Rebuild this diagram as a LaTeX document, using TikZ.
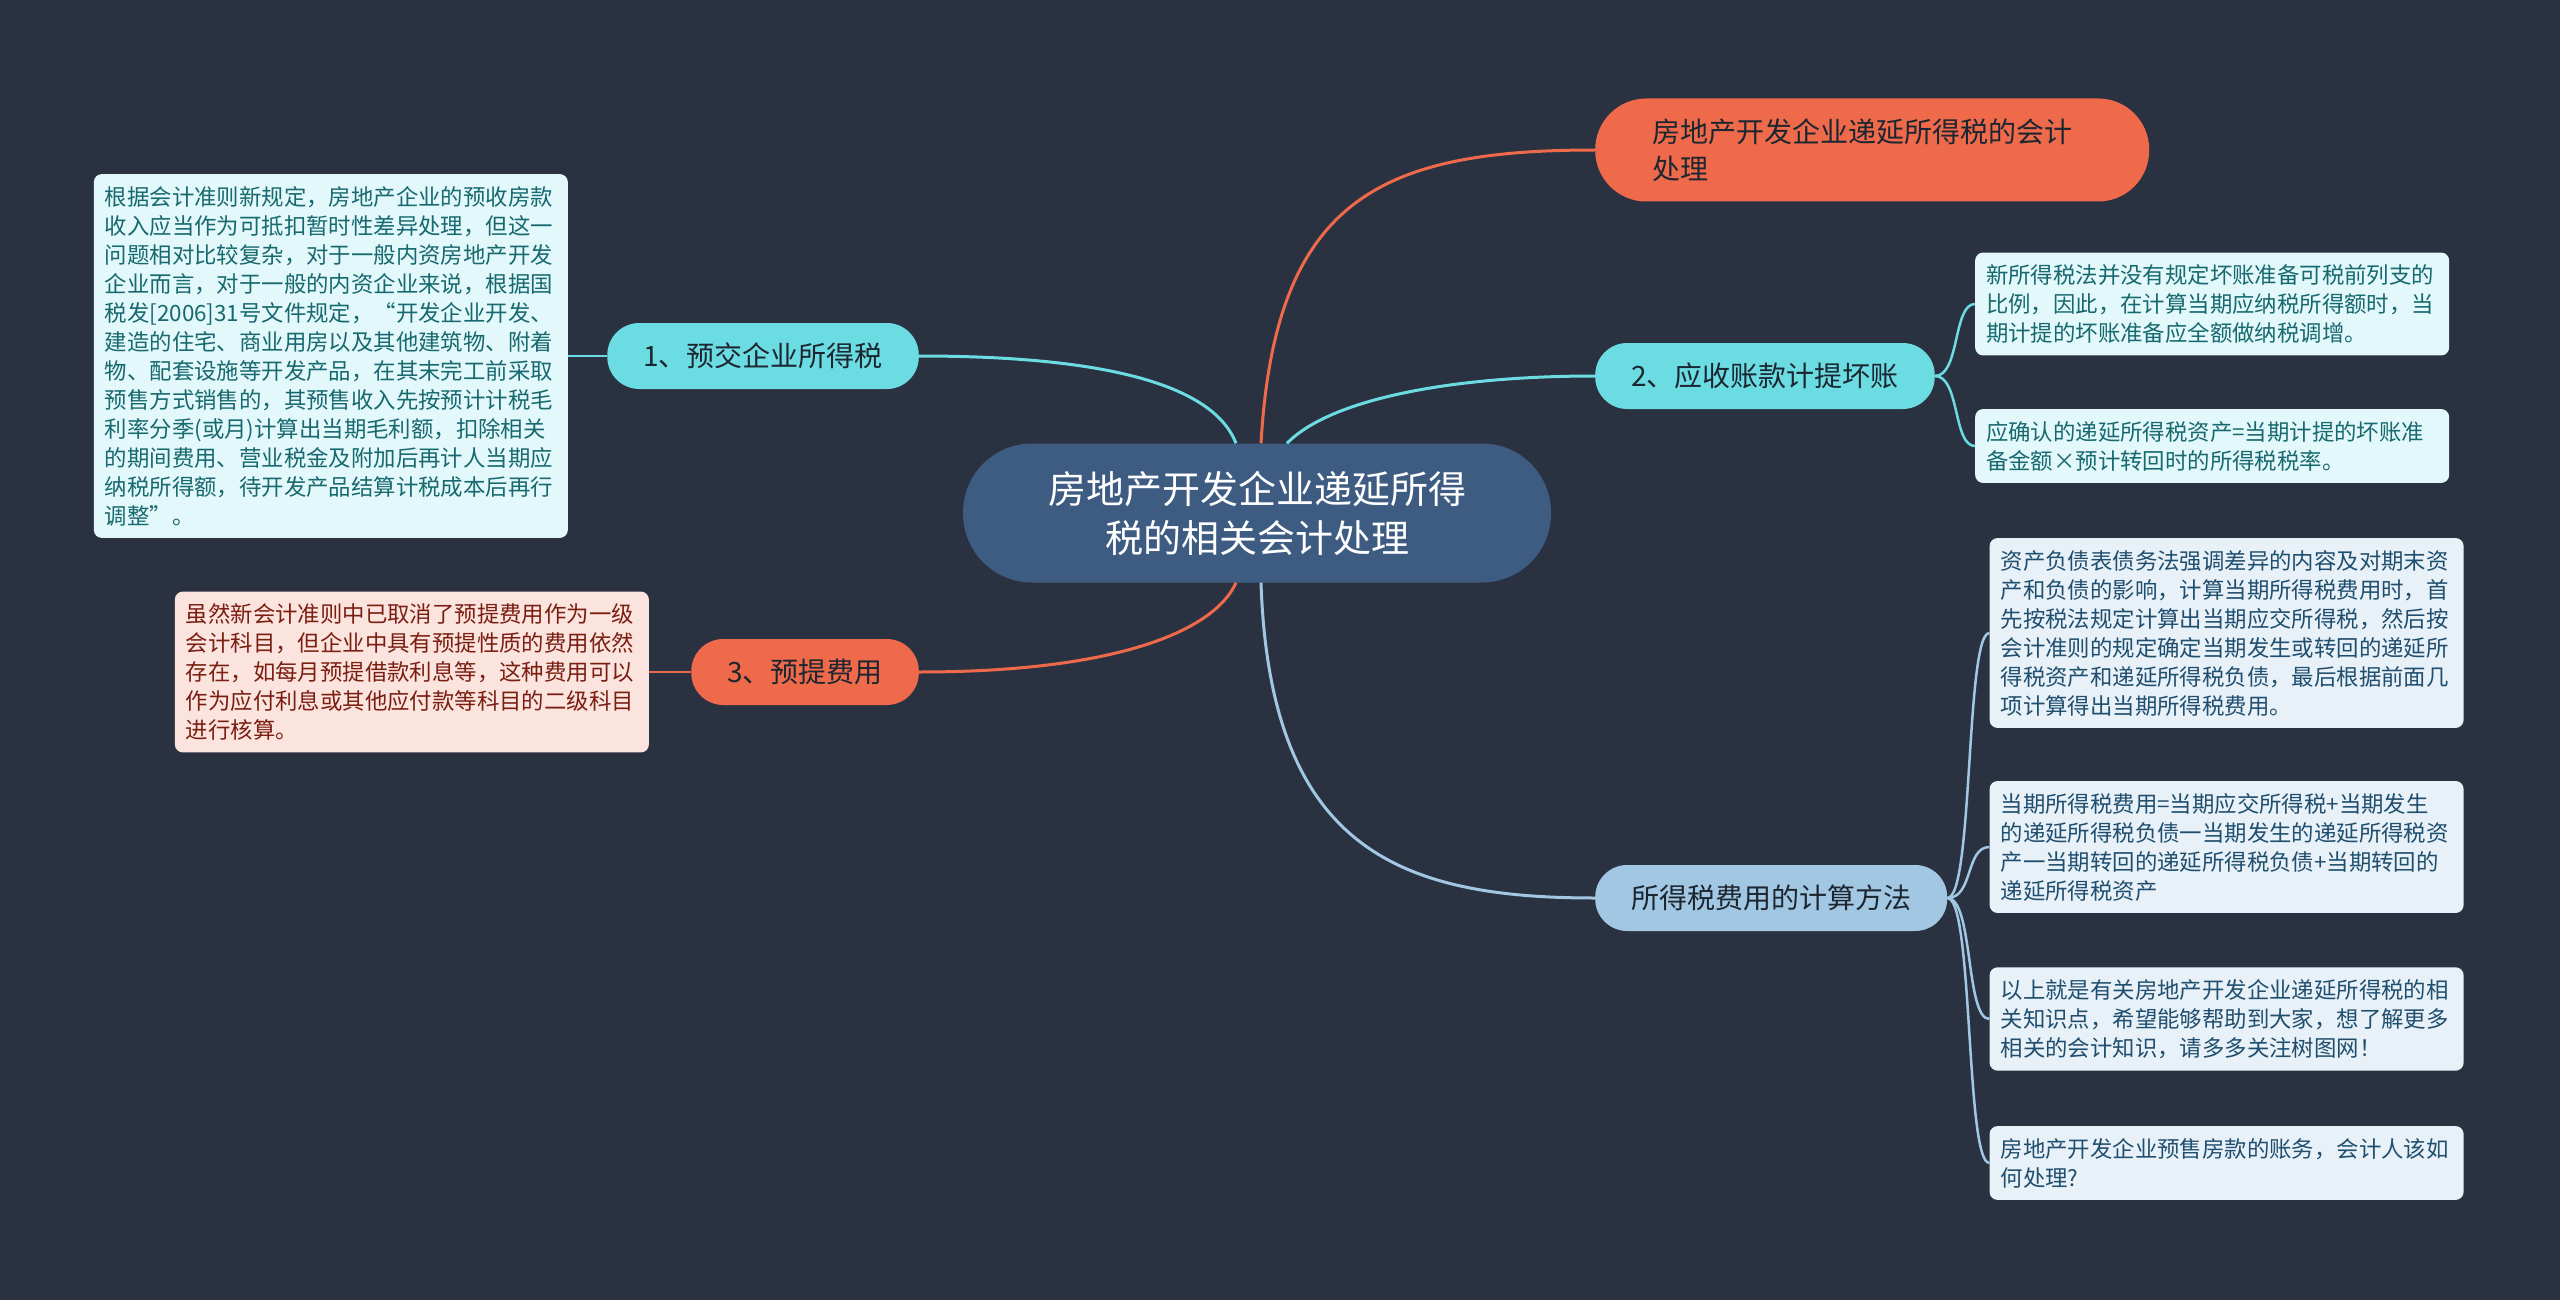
\documentclass[tikz,border=0pt]{standalone}
\usepackage{fontspec}
\setmainfont{Noto Sans CJK SC}
\usetikzlibrary{positioning}
\definecolor{bgdark}{HTML}{2A3242}
\definecolor{rootblue}{HTML}{3E5C82}
\definecolor{orangeC}{HTML}{EE6A4A}
\definecolor{cyanC}{HTML}{6CDCE3}
\definecolor{blueC}{HTML}{A2C7E2}
\definecolor{topictext}{HTML}{1C2630}
\definecolor{cyanleaf}{HTML}{E2F8FA}
\definecolor{cyantext}{HTML}{17696F}
\definecolor{pinkleaf}{HTML}{FCE4DE}
\definecolor{pinktext}{HTML}{7A1E12}
\definecolor{blueleaf}{HTML}{E8F1F8}
\definecolor{bluetext}{HTML}{1F4E6E}

\begin{document}
\begin{tikzpicture}[x=1pt,y=-1pt,
   root/.style={fill=rootblue,text=white,rounded corners=69pt,minimum height=139pt,
     text width=420pt,align=center,inner xsep=84pt,font=\fontsize{38}{49}\selectfont},
   topic/.style={rounded corners=32pt,minimum height=66pt,inner xsep=36pt,
     text=topictext,font=\fontsize{28}{37}\selectfont},
   leaf/.style={rounded corners=8pt,text width=452pt,align=left,inner xsep=11pt,
     inner ysep=12pt,font=\fontsize{22.4}{29}\selectfont},
   cyanleafbox/.style={leaf,fill=cyanleaf,text=cyantext},
   pinkleafbox/.style={leaf,fill=pinkleaf,text=pinktext},
   blueleafbox/.style={leaf,fill=blueleaf,text=bluetext},
   link/.style={line width=3pt},
   brace/.style={line width=2.5pt}]
  \fill[bgdark] (0,0) rectangle (2560,1300);
  \useasboundingbox (0,0) rectangle (2560,1300);

  % centre and main topics
  \node[root] (root) at (1257,513) {房地产开发企业递延所得\\税的相关会计处理};
  \node[topic,fill=orangeC,anchor=west,rounded corners=51pt,minimum height=103pt,
     text width=440pt,align=left,inner xsep=57pt] (t0) at (1595,150)
     {房地产开发企业递延所得税的会计\\处理};
  \node[topic,fill=cyanC,anchor=east] (t1) at (919,356) {1、预交企业所得税};
  \node[topic,fill=cyanC,anchor=west] (t2) at (1595,376) {2、应收账款计提坏账};
  \node[topic,fill=orangeC,anchor=east] (t3) at (919,672) {3、预提费用};
  \node[topic,fill=blueC,anchor=west] (t4) at (1595,898) {所得税费用的计算方法};

  % notes
  \node[cyanleafbox] (l1) [left=39pt of t1] {根据会计准则新规定，房地产企业的预收房款\\
    收入应当作为可抵扣暂时性差异处理，但这一\\
    问题相对比较复杂，对于一般内资房地产开发\\
    企业而言，对于一般的内资企业来说，根据国\\
    税发[2006]31号文件规定，“开发企业开发、\\
    建造的住宅、商业用房以及其他建筑物、附着\\
    物、配套设施等开发产品，在其末完工前采取\\
    预售方式销售的，其预售收入先按预计计税毛\\
    利率分季(或月)计算出当期毛利额，扣除相关\\
    的期间费用、营业税金及附加后再计人当期应\\
    纳税所得额，待开发产品结算计税成本后再行\\
    调整”。};
  \node[pinkleafbox] (l3) [left=42pt of t3] {虽然新会计准则中已取消了预提费用作为一级\\
    会计科目，但企业中具有预提性质的费用依然\\
    存在，如每月预提借款利息等，这种费用可以\\
    作为应付利息或其他应付款等科目的二级科目\\
    进行核算。};
  \node[cyanleafbox] (l2a) [right=40pt of t2,yshift=72pt] {新所得税法并没有规定坏账准备可税前列支的\\
    比例，因此，在计算当期应纳税所得额时，当\\
    期计提的坏账准备应全额做纳税调增。};
  \node[cyanleafbox] (l2b) [right=40pt of t2,yshift=-70pt] {应确认的递延所得税资产=当期计提的坏账准\\
    备金额×预计转回时的所得税税率。};
  \node[blueleafbox] (l4a) [right=42pt of t4,yshift=265pt] {资产负债表债务法强调差异的内容及对期末资\\
    产和负债的影响，计算当期所得税费用时，首\\
    先按税法规定计算出当期应交所得税，然后按\\
    会计准则的规定确定当期发生或转回的递延所\\
    得税资产和递延所得税负债，最后根据前面几\\
    项计算得出当期所得税费用。};
  \node[blueleafbox] (l4b) [right=42pt of t4,yshift=51pt] {当期所得税费用=当期应交所得税+当期发生\\
    的递延所得税负债一当期发生的递延所得税资\\
    产一当期转回的递延所得税负债+当期转回的\\
    递延所得税资产};
  \node[blueleafbox] (l4c) [right=42pt of t4,yshift=-121pt] {以上就是有关房地产开发企业递延所得税的相\\
    关知识点，希望能够帮助到大家，想了解更多\\
    相关的会计知识，请多多关注树图网！};
  \node[blueleafbox] (l4d) [right=42pt of t4,yshift=-265pt] {房地产开发企业预售房款的账务，会计人该如\\
    何处理?};

  % branches
  \draw[link,orangeC] ([xshift=4pt]root.north) .. controls +(14,-244) and +(-215,0) .. (t0.west);
  \draw[link,cyanC] ([xshift=30pt]root.north) .. controls +(43,-44) and +(-145,0) .. (t2.west);
  \draw[link,blueC] ([xshift=4pt]root.south) .. controls +(9,267) and +(-195,0) .. (t4.west);
  \draw[link,cyanC] (t1.east) .. controls +(201,0) and +(-21,-54) .. ([xshift=-21pt]root.north);
  \draw[link,orangeC] (t3.east) .. controls +(201,0) and +(-21,47) .. ([xshift=-21pt]root.south);

  \draw[brace,cyanC] (t1.west) -- (l1.east);
  \draw[brace,orangeC] (t3.west) -- (l3.east);
  \foreach \n in {l2a,l2b}
    \draw[brace,cyanC] (t2.east) .. controls +(25,0) and +(-22,0) .. (\n.west);
  \foreach \n in {l4a,l4b,l4c,l4d}
    \draw[brace,blueC] (t4.east) .. controls +(26,0) and +(-24,0) .. (\n.west);
\end{tikzpicture}
\end{document}
